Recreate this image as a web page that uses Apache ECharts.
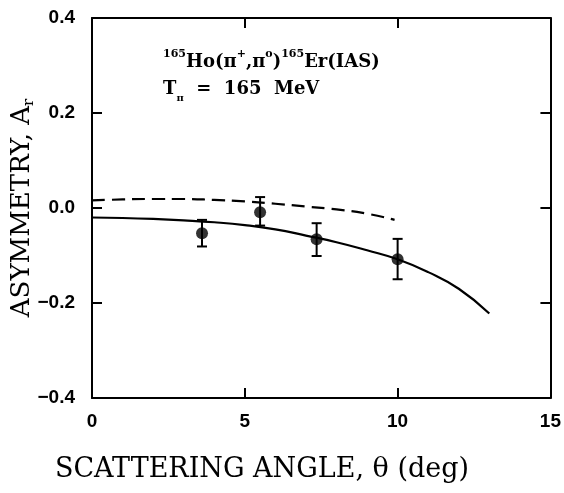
<!DOCTYPE html>
<html>
<head>
<meta charset="utf-8">
<script src="https://cdn.jsdelivr.net/npm/echarts@6/dist/echarts.min.js"></script>
<style>
  html, body { margin: 0; padding: 0; background: #fff; }
  #chart { width: 564px; height: 493px; }
</style>
</head>
<body>
<div id="chart"></div>
<script>
// 测量点: 角度, 不对称度, 误差上下限
var angles = [3.6, 5.5, 7.35, 10.0];
var asym = [-0.053, -0.009, -0.066, -0.108];
var errHigh = [-0.025, 0.023, -0.032, -0.065];
var errLow = [-0.081, -0.037, -0.101, -0.150];

// 实线理论曲线
var solidX = [0, 1, 2, 3, 4, 5, 6, 7, 8, 9, 10, 11, 12, 13];
var solidY = [-0.020, -0.021, -0.023, -0.026, -0.030, -0.036, -0.045, -0.058, -0.072, -0.089, -0.108, -0.135, -0.170, -0.222];

// 虚线理论曲线
var dashX = [0, 1, 2, 3, 4, 5, 6, 7, 8, 9, 9.9];
var dashY = [0.016, 0.018, 0.019, 0.019, 0.017, 0.014, 0.009, 0.003, -0.003, -0.012, -0.025];

var xTicks = [0, 5, 10, 15];
var yTicks = [-0.4, -0.2, 0.0, 0.2, 0.4];

function pairs(xs, ys) {
    return xs.map(function (x, i) { return [x, ys[i]]; });
}

var chart = echarts.init(document.getElementById('chart'));
var tickFont = { fontFamily: 'Liberation Sans', fontWeight: 'bold', fontSize: 19, color: '#000' };
var lineStyle = { color: '#000', width: 2 };

function frameAxis(extra) {
    return Object.assign({
        type: 'value',
        axisLine: { onZero: false, lineStyle: lineStyle },
        axisTick: { inside: true, length: 10, lineStyle: lineStyle },
        splitLine: { show: false }
    }, extra);
}

var option = {
    animation: false,
    grid: { left: 92, right: 13, top: 18, bottom: 95 },
    xAxis: [
        frameAxis({
            min: 0, max: 15, interval: 5,
            axisLabel: Object.assign({ margin: 14, formatter: function (v) { return xTicks.indexOf(v) >= 0 ? String(v) : ''; } }, tickFont)
        }),
        frameAxis({ min: 0, max: 15, interval: 5, position: 'top', axisLabel: { show: false } })
    ],
    yAxis: [
        frameAxis({
            min: -0.4, max: 0.4, interval: 0.2,
            axisLabel: Object.assign({ margin: 17, formatter: function (v) {
                var r = Math.round(v * 10) / 10;
                return r < 0 ? '\u2212' + Math.abs(r).toFixed(1) : r.toFixed(1);
            } }, tickFont)
        }),
        frameAxis({ min: -0.4, max: 0.4, interval: 0.2, position: 'right', axisLabel: { show: false } })
    ],
    graphic: [{
        // 反应式标注
        type: 'text', left: 163, top: 49,
        style: {
            text: '{s|165}Ho(π{s|+},π{s|o}){s|165}Er(IAS)\nT{b|π}  =  165  MeV',
            font: 'bold 18px "DejaVu Serif"', fill: '#000', lineHeight: 27,
            rich: {
                s: { font: 'bold 11px "DejaVu Serif"', verticalAlign: 'top', lineHeight: 22 },
                b: { font: 'bold 10px "DejaVu Serif"', verticalAlign: 'bottom', lineHeight: 22 }
            }
        }
    }, {
        // x轴标题
        type: 'text', x: 262, y: 470,
        style: {
            text: 'SCATTERING ANGLE, θ (deg)', font: '27px "DejaVu Serif"', fill: '#000',
            align: 'center', verticalAlign: 'middle'
        }
    }, {
        // y轴标题
        type: 'text', x: 22, y: 208, rotation: Math.PI / 2,
        style: {
            text: 'ASYMMETRY, A{r|r}', font: '26px "DejaVu Serif"', fill: '#000',
            align: 'center', verticalAlign: 'middle', lineHeight: 30,
            rich: { r: { font: '15px "DejaVu Serif"', verticalAlign: 'bottom', lineHeight: 26 } }
        }
    }],
    series: [{
        type: 'line', data: pairs(solidX, solidY), smooth: true, symbol: 'none',
        lineStyle: { color: '#000', width: 2.2 }
    }, {
        type: 'line', data: pairs(dashX, dashY), smooth: true, symbol: 'none',
        lineStyle: { color: '#000', width: 2.2, type: [13, 7] }
    }, {
        type: 'custom',
        data: angles.map(function (a, i) { return [a, errHigh[i], errLow[i]]; }),
        renderItem: function (params, api) {
            var hi = api.coord([api.value(0), api.value(1)]);
            var lo = api.coord([api.value(0), api.value(2)]);
            var w = 5;
            var st = { stroke: '#000', lineWidth: 2 };
            return {
                type: 'group', children: [
                    { type: 'line', shape: { x1: hi[0], y1: hi[1], x2: lo[0], y2: lo[1] }, style: st },
                    { type: 'line', shape: { x1: hi[0] - w, y1: hi[1], x2: hi[0] + w, y2: hi[1] }, style: st },
                    { type: 'line', shape: { x1: lo[0] - w, y1: lo[1], x2: lo[0] + w, y2: lo[1] }, style: st }
                ]
            };
        },
        z: 3
    }, {
        type: 'scatter', data: pairs(angles, asym), symbol: 'circle', symbolSize: 12,
        itemStyle: { color: '#000' }, z: 4
    }]
};
chart.setOption(option);
</script>
</body>
</html>
